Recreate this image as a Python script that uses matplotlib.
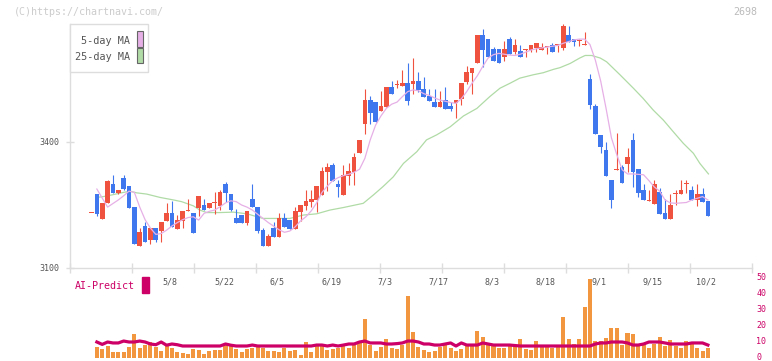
import matplotlib
matplotlib.use("Agg")
import matplotlib.pyplot as plt
from matplotlib.patches import Rectangle
from matplotlib.transforms import ScaledTranslation

plt.rcParams["font.family"] = "DejaVu Sans Mono"

# daily candles (index 0 = first trading day shown)
opens = [3230, 3276, 3217, 3254, 3300, 3279, 3314, 3295, 3245, 3152,
         3200, 3167, 3195, 3188, 3212, 3231, 3193, 3212, 3235, 3231,
         3243, 3250, 3243, 3254, 3248, 3300, 3276, 3219, 3226, 3207,
         3264, 3245, 3190, 3152, 3195, 3174, 3219, 3214, 3193, 3233,
         3248, 3257, 3262, 3274, 3329, 3345, 3300, 3274, 3319, 3329,
         3374, 3443, 3500, 3495, 3474, 3483, 3531, 3535, 3533, 3540,
         3538, 3545, 3526, 3510, 3495, 3483, 3500, 3486, 3493, 3502,
         3543, 3564, 3588, 3655, 3645, 3621, 3621, 3602, 3645, 3614,
         3617, 3619, 3619, 3624, 3619, 3626, 3631, 3630, 3624, 3655,
         3645, 3640, 3630, 3550, 3486, 3417, 3381, 3310, 3334, 3341,
         3348, 3405, 3336, 3286, 3259, 3252, 3281, 3231, 3217, 3276,
         3276, 3300, 3286, 3262, 3276, 3260]
highs = [3231, 3276, 3254, 3310, 3321, 3286, 3321, 3295, 3245, 3195,
         3210, 3195, 3195, 3210, 3255, 3260, 3226, 3236, 3264, 3231,
         3271, 3264, 3255, 3281, 3286, 3305, 3276, 3240, 3226, 3236,
         3300, 3245, 3195, 3181, 3210, 3231, 3231, 3214, 3245, 3250,
         3286, 3286, 3295, 3341, 3350, 3350, 3310, 3345, 3350, 3374,
         3405, 3526, 3510, 3495, 3521, 3531, 3545, 3548, 3571, 3588,
         3600, 3567, 3555, 3526, 3526, 3521, 3531, 3495, 3500, 3540,
         3581, 3576, 3655, 3668, 3645, 3626, 3621, 3640, 3650, 3645,
         3631, 3621, 3631, 3636, 3636, 3626, 3636, 3631, 3681, 3676,
         3645, 3645, 3662, 3562, 3491, 3417, 3400, 3310, 3421, 3345,
         3386, 3421, 3336, 3300, 3286, 3310, 3290, 3264, 3276, 3286,
         3310, 3310, 3295, 3300, 3290, 3260]
lows = [3230, 3224, 3217, 3254, 3279, 3275, 3285, 3244, 3157, 3152,
        3162, 3157, 3162, 3162, 3212, 3198, 3193, 3195, 3235, 3183,
        3224, 3238, 3243, 3229, 3238, 3257, 3236, 3207, 3207, 3202,
        3245, 3183, 3152, 3152, 3174, 3174, 3198, 3193, 3193, 3212,
        3238, 3245, 3233, 3274, 3283, 3307, 3269, 3274, 3298, 3298,
        3374, 3419, 3443, 3448, 3474, 3483, 3514, 3528, 3533, 3488,
        3514, 3519, 3507, 3498, 3483, 3483, 3479, 3474, 3457, 3488,
        3538, 3514, 3588, 3579, 3602, 3593, 3588, 3593, 3609, 3610,
        3602, 3602, 3614, 3614, 3619, 3610, 3614, 3614, 3619, 3638,
        3629, 3629, 3630, 3479, 3419, 3374, 3319, 3243, 3334, 3302,
        3329, 3293, 3269, 3262, 3259, 3252, 3229, 3217, 3217, 3250,
        3276, 3279, 3262, 3248, 3257, 3224]
closes = [3231, 3229, 3254, 3306, 3279, 3286, 3288, 3244, 3157, 3186,
          3162, 3195, 3167, 3210, 3231, 3198, 3214, 3236, 3236, 3183,
          3271, 3238, 3255, 3255, 3281, 3279, 3238, 3207, 3207, 3236,
          3245, 3188, 3152, 3176, 3174, 3219, 3198, 3193, 3236, 3250,
          3260, 3264, 3295, 3331, 3341, 3307, 3293, 3321, 3331, 3364,
          3405, 3500, 3469, 3448, 3486, 3531, 3514, 3536, 3540, 3498,
          3545, 3524, 3507, 3498, 3483, 3495, 3479, 3479, 3500, 3540,
          3567, 3576, 3655, 3619, 3602, 3593, 3588, 3621, 3609, 3631,
          3602, 3621, 3631, 3636, 3626, 3627, 3614, 3631, 3676, 3638,
          3638, 3641, 3631, 3488, 3419, 3388, 3319, 3262, 3336, 3302,
          3364, 3329, 3279, 3262, 3260, 3300, 3229, 3217, 3250, 3277,
          3286, 3301, 3262, 3276, 3257, 3224]

# moving averages, read at (candle index, price)
ma5_x = [1, 3, 5, 6, 7, 8, 9, 10, 11, 12, 13, 14, 15, 16, 17, 18, 19, 20,
         21, 22, 23, 24, 25, 26, 27, 28, 29, 30, 31, 32, 33, 35, 36, 37, 38,
         39, 40, 41, 42, 43, 44, 45, 46, 47, 48, 49, 50, 51, 52, 53, 54, 55,
         56, 57, 58, 59, 60, 61, 62, 63, 64, 65, 66, 67, 68, 69, 70, 71, 72,
         73, 74, 75, 76, 77, 78, 79, 80, 81, 82, 83, 84, 85, 86, 87, 88, 89,
         90, 91, 92, 93, 94, 95, 96, 97, 98, 99, 100, 101, 102, 103, 104,
         105, 106, 107, 108, 109, 110, 111, 112, 113, 114, 115]
ma5_y = [3288, 3245, 3262, 3272, 3283, 3280, 3245, 3215, 3195, 3180, 3182,
         3190, 3200, 3208, 3215, 3220, 3222, 3214, 3230, 3235, 3238, 3246,
         3255, 3260, 3258, 3250, 3245, 3238, 3228, 3218, 3208, 3191, 3185,
         3188, 3198, 3212, 3222, 3236, 3255, 3280, 3295, 3308, 3315, 3320,
         3323, 3328, 3335, 3361, 3405, 3440, 3462, 3480, 3490, 3495, 3508,
         3520, 3524, 3522, 3515, 3511, 3505, 3500, 3497, 3494, 3492, 3503,
         3520, 3540, 3558, 3580, 3600, 3608, 3611, 3609, 3607, 3606, 3609,
         3614, 3619, 3622, 3624, 3626, 3628, 3630, 3635, 3639, 3643, 3645,
         3645, 3632, 3595, 3545, 3480, 3410, 3370, 3334, 3324, 3324, 3323,
         3322, 3308, 3293, 3283, 3262, 3255, 3254, 3255, 3256, 3262, 3266,
         3270, 3262]
ma25_x = [1, 2.2, 3.8, 5.6, 7.2, 8.4, 10.3, 12.8, 15.3, 16.8, 19, 20.2, 21.5,
          24, 26.5, 29, 32, 34.6, 37, 39.5, 42, 44.5, 47, 50.7, 52.6, 54.4,
          56.3, 58.2, 60.7, 62.5, 64.4, 66.9, 69.4, 71.9, 74.3, 76.2, 78.1,
          79.9, 82.4, 84.3, 86.2, 87.4, 89.3, 91.1, 92.1, 93.3, 94.9, 96.1,
          98.6, 101.1, 102.9, 104.8, 106.7, 108.5, 110.4, 112.3, 113.5, 115.1]
ma25_y = [3268, 3270, 3274, 3279, 3283, 3279, 3276, 3268, 3262, 3258, 3248,
          3238, 3232, 3232, 3233, 3229, 3218, 3218, 3218, 3226, 3229, 3238,
          3244, 3254, 3274, 3294, 3317, 3349, 3377, 3405, 3417, 3436, 3462,
          3480, 3508, 3528, 3540, 3552, 3560, 3565, 3573, 3577, 3587, 3600,
          3606, 3606, 3600, 3591, 3560, 3528, 3504, 3476, 3452, 3425, 3397,
          3373, 3349, 3324]

# lower panel (starts at candle index 1)
volume = [6.9, 5.6, 7.5, 3.75, 3.75, 3.75, 6.9, 15, 6.25, 8.1,
          10, 6.9, 4.4, 8.1, 6.25, 3.75, 3.1, 2.5, 5.6, 5,
          2.5, 4.4, 5, 5, 8.1, 7.5, 5.6, 3.75, 5.6, 6.25,
          7.5, 6.25, 4.4, 4.4, 3.75, 6.25, 4.4, 5, 1.9, 10,
          3.75, 7.5, 7.5, 5, 5.6, 6.25, 7.5, 6.25, 8.1, 9.4,
          24.4, 8.1, 4.4, 6.9, 11.9, 6.25, 5.6, 8.1, 38.75, 16.25,
          6.9, 5, 3.75, 4.4, 6.9, 8.1, 6.25, 4.4, 5.6, 7.5,
          8.1, 16.9, 13.1, 8.1, 7.5, 6.25, 6.25, 7.5, 6.9, 11.9,
          5.6, 5, 10.6, 7.5, 7.5, 6.25, 7.5, 25.6, 11.9, 8.75,
          11.9, 31.9, 49.4, 10.6, 10.6, 12.5, 18.75, 18.75, 8.1, 15.6,
          15, 8.1, 9.4, 6.25, 8.75, 13.1, 7.5, 11.25, 7.5, 6.25,
          10.6, 8.75, 6.25, 4.4, 6.25]
ai_predict = [10.0, 8.5, 10.0, 9.4, 9.4, 10.6, 10.0, 10.0, 10.6, 10.0,
              8.75, 8.3, 10.0, 8.0, 8.75, 8.3, 7.5, 7.5, 7.5, 7.5,
              7.5, 7.5, 7.5, 7.5, 8.75, 8.0, 7.5, 7.5, 7.5, 8.1,
              7.5, 7.5, 7.5, 7.5, 7.5, 7.5, 7.5, 7.5, 7.5, 7.5,
              7.5, 8.1, 8.1, 7.5, 8.1, 7.5, 8.1, 8.75, 8.75, 10.0,
              10.6, 9.4, 9.4, 9.4, 8.75, 8.75, 9.0, 9.4, 10.6, 10.6,
              10.0, 8.75, 8.75, 8.1, 8.1, 8.75, 9.4, 7.5, 9.4, 8.1,
              8.1, 8.1, 9.4, 8.75, 8.1, 8.1, 8.1, 8.1, 7.8, 7.5,
              7.5, 7.5, 7.5, 7.5, 7.5, 7.5, 7.5, 7.5, 7.5, 7.5,
              7.5, 7.5, 7.5, 8.75, 9.4, 9.4, 10.0, 10.0, 10.0, 9.4,
              8.1, 8.1, 8.75, 10.0, 10.0, 10.0, 9.4, 8.75, 8.75, 8.75,
              8.75, 9.4, 9.4, 9.4, 8.1]

date_labels = ["5/8", "5/22", "6/5", "6/19", "7/3", "7/17",
               "8/3", "8/18", "9/1", "9/15", "10/2"]
date_idx = [15, 25, 35, 45, 55, 65, 75, 85, 95, 105, 115]
price_ticks = [3100, 3400]
vol_ticks = [0, 10, 20, 30, 40, 50]

UP = "#ef5340"
DOWN = "#3f78ee"
ORANGE = "#f2973f"
CRIMSON = "#cc0066"
PINK = "#e6b0e6"
GREEN = "#b0dba6"
GRID = "#dddddd"
TXT = "#555555"

W, H = 772, 361


def px_box(left, top, right, bottom):
    return [left / W, 1 - bottom / H, (right - left) / W, (bottom - top) / H]


fig = plt.figure(figsize=(W / 100, H / 100), dpi=100)
ax = fig.add_axes(px_box(70, 10, 752, 268))
axv = fig.add_axes(px_box(70, 278, 752, 358))

xlim = ((70 - 91.5) / 5.36, (752 - 91.5) / 5.36)
per_px = 300 / 126

# candles
n = len(opens)
xs = list(range(n))
colors = [UP if c >= o else DOWN for o, c in zip(opens, closes)]
bottoms = [min(o, c) for o, c in zip(opens, closes)]
heights = [max(abs(c - o), 1.2 * per_px) for o, c in zip(opens, closes)]
ax.vlines(xs, lows, highs, colors=colors, linewidth=0.8, zorder=2)
ax.bar(xs, heights, bottom=bottoms, width=0.88, color=colors, linewidth=0, zorder=3)

ax.plot(ma25_x, ma25_y, color=GREEN, linewidth=0.9, zorder=1)
ax.plot(ma5_x, ma5_y, color=PINK, linewidth=0.9, zorder=4)

ax.set_xlim(*xlim)
ax.set_ylim(3100, 3100 + 258 * per_px)
for s in ["top", "right"]:
    ax.spines[s].set_visible(False)
for s in ["left", "bottom"]:
    ax.spines[s].set_color(GRID)
    ax.spines[s].set_linewidth(1.0)
ax.spines["left"].set_bounds(3100, 3100 + (268 - 24) * per_px)

ax.set_yticks(price_ticks)
ax.set_yticklabels([str(t) for t in price_ticks])
ax.tick_params(axis="y", direction="inout", length=5.8, width=1, color=GRID,
               labelsize=6, labelcolor=TXT, pad=5)
ax.set_xticks([xlim[0] + k * 62 / 5.36 for k in range(12)])
ax.set_xticklabels([])
ax.tick_params(axis="x", direction="inout", length=6.5, width=1, color=GRID)

for lab, i in zip(date_labels, date_idx):
    ax.text(i - 0.3, -14 / 258, lab, transform=ax.get_xaxis_transform(),
            ha="center", va="center", fontsize=6, color=TXT, clip_on=False)

# lower panel
axv.bar(range(1, n), volume, width=0.75, color=ORANGE, linewidth=0)
axv.plot(range(1, n), ai_predict, color=CRIMSON, linewidth=2.3)
axv.set_xlim(*xlim)
axv.set_ylim(0, 50)
axv.patch.set_alpha(0)
for s in axv.spines.values():
    s.set_visible(False)
axv.set_xticks([])
axv.yaxis.tick_right()
axv.set_yticks(vol_ticks)
axv.set_yticklabels([str(t) for t in vol_ticks])
axv.tick_params(axis="y", length=0, labelsize=6, labelcolor=CRIMSON, pad=3)
lift = ScaledTranslation(0, 2 / 100, fig.dpi_scale_trans)
for lab in axv.get_yticklabels():
    lab.set_transform(lab.get_transform() + lift)

fig.text(75 / W, 1 - 286 / H, "AI-Predict", color=CRIMSON, fontsize=7.2,
         ha="left", va="center")
fig.patches.append(Rectangle((142 / W, 1 - 293 / H), 7 / W, 16 / H,
                             transform=fig.transFigure, color=CRIMSON))

# legend box
fig.patches.append(Rectangle((70 / W, 1 - 72 / H), 78 / W, 48 / H,
                             transform=fig.transFigure, facecolor="white",
                             edgecolor=GRID, linewidth=1.0))
fig.text(130 / W, 1 - 41 / H, "5-day MA", color=TXT, fontsize=7.3,
         ha="right", va="center")
fig.text(130 / W, 1 - 57 / H, "25-day MA", color=TXT, fontsize=7.3,
         ha="right", va="center")
fig.patches.append(Rectangle((136.5 / W, 1 - 46.5 / H), 6 / W, 15 / H,
                             transform=fig.transFigure, facecolor=PINK,
                             edgecolor="#666666", linewidth=0.8))
fig.patches.append(Rectangle((136.5 / W, 1 - 63 / H), 6 / W, 15 / H,
                             transform=fig.transFigure, facecolor=GREEN,
                             edgecolor="#666666", linewidth=0.8))

fig.text(14 / W, 1 - 12 / H, "(C)https://chartnavi.com/", color="#cccccc",
         fontsize=7.2, ha="left", va="center")
fig.text(757 / W, 1 - 12 / H, "2698", color="#bbbbbb", fontsize=7.2,
         ha="right", va="center")

fig.savefig("out.png", dpi=100)
